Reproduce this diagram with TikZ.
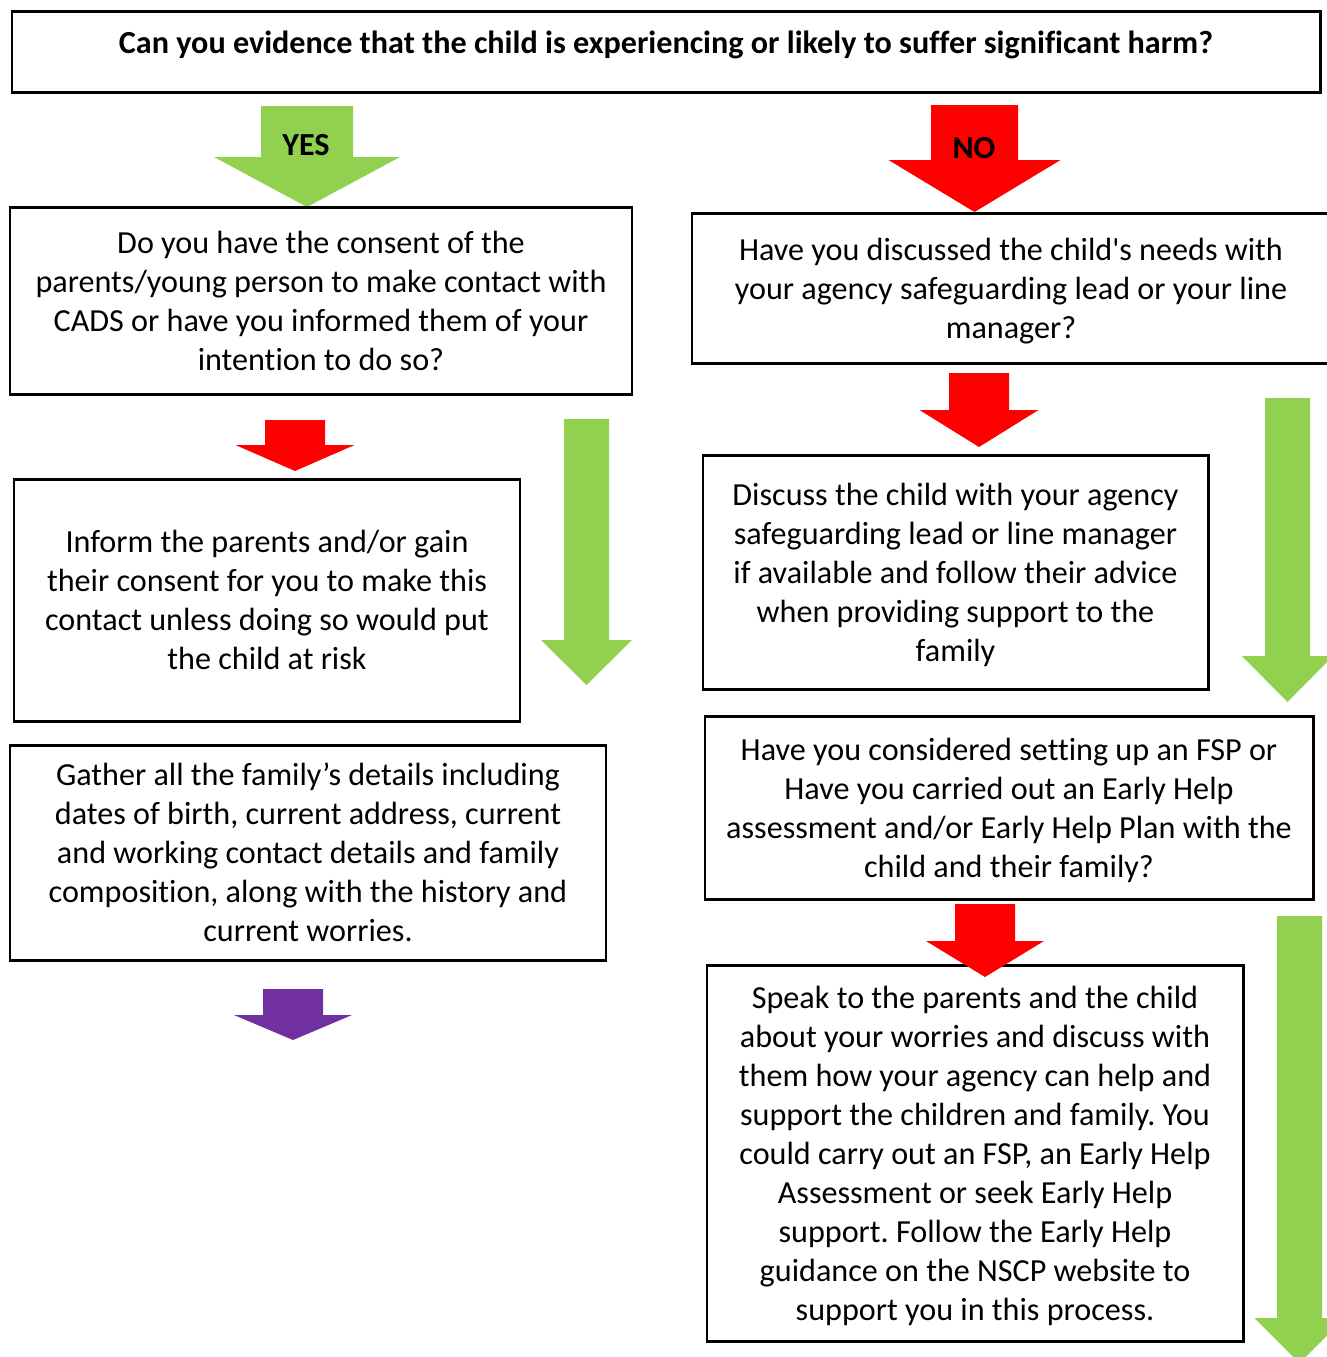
\documentclass[tikz,border=0pt]{standalone}
\usepackage{fontspec}
\setmainfont[Ligatures=NoCommon]{Carlito}
\usepackage{xcolor}
\usepackage{tikz}
\usetikzlibrary{positioning}
\definecolor{green}{RGB}{146,208,80}
\definecolor{red}{RGB}{255,0,0}
\definecolor{purple}{RGB}{112,48,160}
\frenchspacing

% block arrow: colour, centre x, top, neck, tip, shaft half width, head half width
\newcommand{\blockarrow}[7]{%
  \fill[#1] (#2-#6,#3) -- (#2+#6,#3) -- (#2+#6,#4) -- (#2+#7,#4) -- (#2,#5)
    -- (#2-#7,#4) -- (#2-#6,#4) -- cycle;}

\tikzset{
  box/.style={draw, line width=1.7pt, rectangle, align=center, inner sep=0pt,
    font=\fontsize{18.3}{22.2}\selectfont, text depth=-0.1cm},
  tag/.style={font=\fontsize{18.3}{22.2}\selectfont\bfseries}
}

\begin{document}
\begin{tikzpicture}[x=0.02cm, y=-0.02cm]
	\useasboundingbox (0,0) rectangle (1327,1357);

	% arrows
	\blockarrow{green}{307}{106}{157}{207}{46}{93}
	\blockarrow{red}{974.5}{105}{160}{212}{43.5}{86}
	\blockarrow{red}{295}{420}{445}{471}{30}{59.5}
	\blockarrow{green}{586.5}{419}{640}{685}{22.5}{45.5}
	\blockarrow{purple}{293}{989}{1015}{1040}{30}{59}
	\blockarrow{green}{1287.5}{398}{656}{702}{22.5}{45.5}
	\blockarrow{green}{1299.5}{916}{1318}{1363}{22.5}{45}

	\node[tag] (yes) at (306,145) {YES};
	\node[tag] (no) at (974,148) {NO};

	% question
	\node[box, minimum width=1308*0.02cm, minimum height=81*0.02cm, text height=0.42cm, text depth=0.34cm, font=\fontsize{18.3}{22.2}\selectfont\bfseries] (harm) at (666,51.5) {Can you evidence that the child is experiencing or likely to suffer significant harm?};

	% yes side
	\node[box, minimum width=622*0.02cm, minimum height=187*0.02cm] (consent) at (321,300.5) {Do you have the consent of the\\parents/young person to make contact with\\CADS or have you informed them of your\\intention to do so?};
	\node[box, minimum width=506*0.02cm, minimum height=242*0.02cm] (inform) at (267,600) {Inform the parents and/or gain\\their consent for you to make this\\contact unless doing so would put\\the child at risk};
	\node[box, minimum width=596*0.02cm, minimum height=215*0.02cm] (gather) at (308,852.5) {Gather all the family’s details including\\dates of birth, current address, current\\and working contact details and family\\composition, along with the history and\\current worries.};

	% no side
	\node[box, minimum width=638*0.02cm, minimum height=150*0.02cm] (discussed) at (1011,288) {Have you discussed the child\textquotesingle s needs with\\your agency safeguarding lead or your line\\manager?};
	\blockarrow{red}{979}{373}{410}{447}{30}{59.5}
	\node[box, minimum width=505*0.02cm, minimum height=234*0.02cm] (discuss) at (955.5,572) {Discuss the child with your agency\\safeguarding lead or line manager\\if available and follow their advice\\when providing support to the\\family};
	\node[box, minimum width=608*0.02cm, minimum height=183*0.02cm] (fsp) at (1009,807.5) {Have you considered setting up an FSP or\\Have you carried out an Early Help\\assessment and/or Early Help Plan with the\\child and their family?};
	\node[box, minimum width=536*0.02cm, minimum height=376*0.02cm] (speak) at (975,1153) {Speak to the parents and the child\\about your worries and discuss with\\them how your agency can help and\\support the children and family. You\\could carry out an FSP, an Early Help\\Assessment or seek Early Help\\support. Follow the Early Help\\guidance on the NSCP website to\\support you in this process.};
	\blockarrow{red}{985}{904}{941}{977}{30}{59}
\end{tikzpicture}
\end{document}
